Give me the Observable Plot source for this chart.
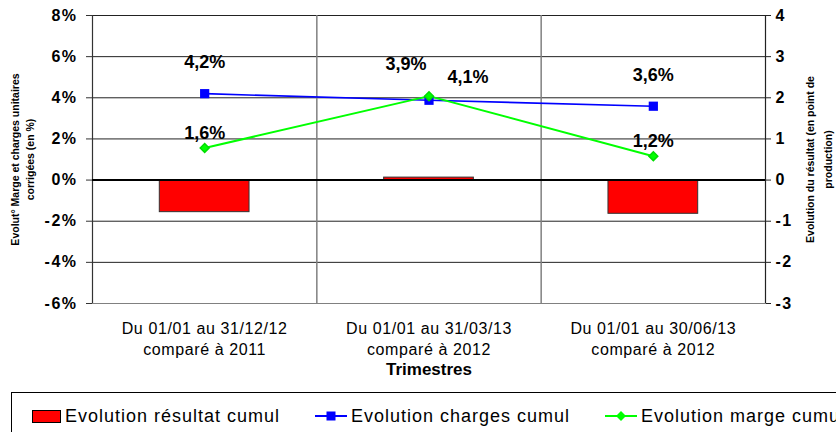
<!DOCTYPE html>
<html>
<head>
<meta charset="utf-8">
<script src="https://cdn.jsdelivr.net/npm/d3@7"></script>
<script src="https://cdn.jsdelivr.net/npm/@observablehq/plot@0.6"></script>
<style>
  body { margin: 0; background: #fff; font-family: "Liberation Sans", Arial, sans-serif; }
  #wrap { position: relative; width: 836px; height: 432px; overflow: hidden; }
  g[aria-label="y-axis tick label"] text { letter-spacing: 1.5px; }
  g[aria-label="x-axis tick label"] text { letter-spacing: 0.6px; }
  g[aria-label="data-labels"] text { letter-spacing: 2.5px; }
  g[aria-label="x-title"] text { letter-spacing: 1.3px; }
  #legend { position: absolute; left: 11px; top: 392px; width: 900px; height: 80px; border: 1px solid #000; box-sizing: border-box; }
  .item { position: absolute; top: 405px; height: 22px; display: flex; align-items: center; gap: 4px; font-size: 18px; letter-spacing: 1px; color: #000; white-space: nowrap; }
</style>
</head>
<body>
<div id="wrap"></div>
<script>
// ---- data ----
const categories = [
  "Du 01/01 au 31/12/12\ncomparé à 2011",
  "Du 01/01 au 31/03/13\ncomparé à 2012",
  "Du 01/01 au 30/06/13\ncomparé à 2012"
];
const resultat = [-0.78, 0.06, -0.82];   // Evolution résultat cumul (points, right axis)
const charges = [4.2, 3.88, 3.59];       // Evolution charges cumul (%, left axis)
const marge = [1.56, 4.08, 1.16];        // Evolution marge cumul (%, left axis)
const leftTicks = [-6, -4, -2, 0, 2, 4, 6, 8];
const rightTicks = [-3, -2, -1, 0, 1, 2, 3, 4];
const seriesNames = ["Evolution résultat cumul", "Evolution charges cumul", "Evolution marge cumul"];
const leftTitle = "Evolut° Marge et charges unitaires\ncorrigées (en %)";
const rightTitle = "Evolution du résultat (en point de\nproduction)";
const xTitle = "Trimestres";

// ---- derived ----
const k = d3.max(leftTicks) / d3.max(rightTicks); // right axis -> left axis ratio
const idx = categories.map((_, i) => i);
const barHalf = 0.2;
const fmt = v => d3.format(".1f")(v).replace(".", ",") + "%";
const chargesData = charges.map((v, i) => ({i, v}));
const margeData = marge.map((v, i) => ({i, v}));
const barData = resultat.map((v, i) => ({i, v: v * k}));
const font = '"Liberation Sans", Arial, sans-serif';

const chart = Plot.plot({
  width: 836,
  height: 390,
  marginLeft: 92,
  marginRight: 71,
  marginTop: 15,
  marginBottom: 87,
  style: {fontFamily: font, background: "#fff", color: "#000", overflow: "visible"},
  x: {domain: [-0.5, categories.length - 0.5], axis: null},
  y: {domain: [d3.min(leftTicks), d3.max(leftTicks)], axis: null},
  marks: [
    Plot.frame({stroke: "#808080"}),
    // horizontal gridlines
    Plot.ruleY(leftTicks.filter(t => t !== 0 && t !== d3.min(leftTicks)), {stroke: "#222", strokeWidth: 1}),
    // vertical category separators
    Plot.ruleX(idx.slice(0, -1).map(i => i + 0.5), {stroke: "#808080", strokeWidth: 1.5}),
    // axis lines
    Plot.ruleX([-0.5], {stroke: "#333", strokeWidth: 1.2}),
    Plot.ruleX([categories.length - 0.5], {stroke: "#222", strokeWidth: 1.2}),
    // bars
    Plot.rectY(barData, {x1: d => d.i - barHalf, x2: d => d.i + barHalf, y1: 0, y2: "v", fill: "#ff0000", stroke: "#333", strokeWidth: 1}),
    // zero line
    Plot.ruleY([0], {stroke: "#000", strokeWidth: 2}),
    // left axis
    Plot.axisY({anchor: "left", label: null, ticks: leftTicks, tickFormat: d => d + "%", tickSize: 6, tickPadding: 9, fontSize: 16, fontWeight: "bold", stroke: "#333"}),
    // right axis
    Plot.axisY({anchor: "right", label: null, ticks: rightTicks.map(t => t * k), tickFormat: d => d / k, tickSize: 5, tickPadding: 5, fontSize: 16, fontWeight: "bold", stroke: "#222"}),
    // x axis labels
    Plot.axisX({anchor: "bottom", label: null, ticks: idx, tickFormat: i => categories[i], tickSize: 0, tickPadding: 16, fontSize: 16, lineHeight: 1.28}),
    // lines
    Plot.line(chargesData, {x: "i", y: "v", stroke: "#0000ff", strokeWidth: 1.6}),
    Plot.line(margeData, {x: "i", y: "v", stroke: "#00ff00", strokeWidth: 2}),
    Plot.dot(chargesData, {x: "i", y: "v", symbol: "square", r: 5.2, fill: "#0000ff", stroke: "none"}),
    Plot.dot(margeData, {x: "i", y: "v", symbol: "diamond2", r: 4, fill: "#00ff00", stroke: "#00dd00"}),
    // data labels
    Plot.text(chargesData, {filter: d => d.i !== 1, x: "i", y: "v", text: d => fmt(d.v), dy: -31, fontSize: 18, fontWeight: "bold", fill: "#000", ariaLabel: "data-labels"}),
    Plot.text(chargesData, {filter: d => d.i === 1, x: "i", y: "v", text: d => fmt(d.v), dx: -23, dy: -36, fontSize: 18, fontWeight: "bold", fill: "#000", ariaLabel: "data-labels"}),
    Plot.text(margeData, {filter: d => d.i !== 1, x: "i", y: "v", text: d => fmt(d.v), dy: -15, fontSize: 18, fontWeight: "bold", fill: "#000", ariaLabel: "data-labels"}),
    Plot.text(margeData, {filter: d => d.i === 1, x: "i", y: "v", text: d => fmt(d.v), dx: 39, dy: -19, fontSize: 18, fontWeight: "bold", fill: "#000", ariaLabel: "data-labels"}),
    // titles
    Plot.text([leftTitle], {frameAnchor: "left", textAnchor: "middle", lineAnchor: "middle", dx: -71, rotate: -90, fontSize: 10.5, fontWeight: "bold", lineHeight: 1.45, fill: "#000", ariaLabel: "y-title"}),
    Plot.text([rightTitle], {frameAnchor: "right", textAnchor: "middle", lineAnchor: "middle", dx: 52, rotate: -90, fontSize: 10.5, fontWeight: "bold", lineHeight: 1.7, fill: "#000", ariaLabel: "y2-title"}),
    Plot.text([xTitle], {frameAnchor: "bottom", dy: 71, fontSize: 17, fontWeight: "bold", fill: "#000", ariaLabel: "x-title"})
  ]
});

const wrap = document.getElementById("wrap");
wrap.appendChild(chart);

// ---- legend (HTML, below the chart) ----
const legend = document.createElement("div");
legend.id = "legend";
wrap.appendChild(legend);

const swatches = [
  `<svg width="29" height="13"><rect x="0.5" y="0.5" width="28" height="12" fill="#ff0000" stroke="#000"/></svg>`,
  `<svg width="32" height="12"><line x1="0" x2="32" y1="6" y2="6" stroke="#0000ff" stroke-width="2"/><rect x="11.5" y="1.5" width="9" height="9" fill="#0000ff"/></svg>`,
  `<svg width="32" height="12"><line x1="0" x2="32" y1="6" y2="6" stroke="#00ff00" stroke-width="2"/><path d="M16 1 L21 6 L16 11 L11 6 Z" fill="#00ff00"/></svg>`
];
const itemLeft = [32, 315, 605];
seriesNames.forEach((name, i) => {
  const el = document.createElement("div");
  el.className = "item";
  el.style.left = itemLeft[i] + "px";
  el.innerHTML = swatches[i] + `<span>${name}</span>`;
  wrap.appendChild(el);
});
</script>
</body>
</html>
